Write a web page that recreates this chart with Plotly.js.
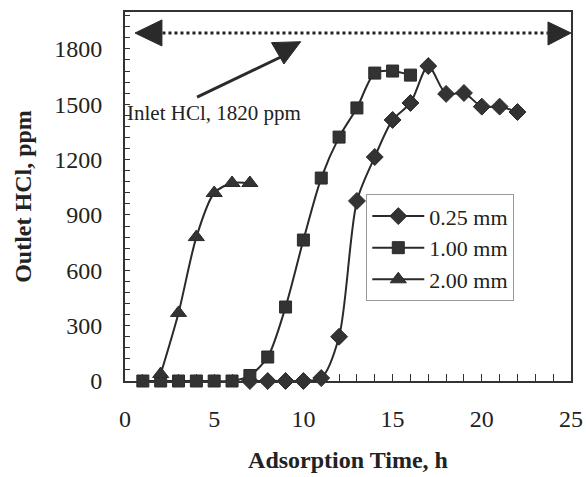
<!DOCTYPE html>
<html>
<head>
<meta charset="utf-8">
<script src="https://cdn.plot.ly/plotly-3.0.1.min.js"></script>
<style>html,body{margin:0;padding:0;background:#fff;}</style>
</head>
<body>
<div id="chart" style="width:586px;height:477px;"></div>
<script>
// Series: 0.25 mm (diamonds)
const x025 = [7, 8, 9, 10, 11, 12, 13, 14, 15, 16, 17, 18, 19, 20, 21, 22];
const y025 = [0, 0, 0, 0, 16, 240, 976, 1214, 1415, 1507, 1707, 1556, 1561, 1487, 1487, 1458];
// Series: 1.00 mm (squares)
const x100 = [1, 2, 3, 4, 5, 6, 7, 8, 9, 10, 11, 12, 13, 14, 15, 16];
const y100 = [0, 0, 0, 0, 0, 0, 30, 130, 401, 764, 1100, 1322, 1480, 1669, 1680, 1658];
// Series: 2.00 mm (triangles)
const x200 = [2, 3, 4, 5, 6, 7];
const y200 = [38, 369, 780, 1019, 1073, 1073];

const seriesNames = ["0.25 mm", "1.00 mm", "2.00 mm"];
const inletLabel = "Inlet HCl, 1820 ppm";
const inletLevel = 1886;

const xTitle = "Adsorption Time, h";
const yTitle = "Outlet HCl, ppm";

const dark = "#2a2a2a";
const FONT = "Liberation Serif, Times New Roman, serif";

function trace(x, y, name, symbol, size) {
  return {
    x: x, y: y, name: name, type: "scatter", mode: "lines+markers",
    line: {color: dark, width: 2, shape: "spline", smoothing: 0.8},
    marker: {symbol: symbol, size: size, color: "#333", line: {color: dark, width: 1}},
    cliponaxis: false
  };
}

const data = [
  trace(x025, y025, seriesNames[0], "diamond", 13),
  trace(x100, y100, seriesNames[1], "square", 12),
  trace(x200, y200, seriesNames[2], "triangle-up", 14)
];

const layout = {
  width: 586, height: 477,
  margin: {l: 125, r: 15, t: 12, b: 96},
  paper_bgcolor: "#fff", plot_bgcolor: "#fff",
  font: {family: FONT, color: "#222", size: 24},
  showlegend: true,
  legend: {
    x: 0.541, y: 0.506, xanchor: "left", yanchor: "top",
    bgcolor: "#fff", bordercolor: "#999", borderwidth: 1,
    font: {family: FONT, size: 22, color: "#222"},
    tracegroupgap: 0, itemwidth: 52
  },
  xaxis: {
    range: [0, 25], dtick: 5, tick0: 0,
    showline: true, linecolor: "#333", linewidth: 2, mirror: true,
    ticks: "inside", ticklen: 7, tickcolor: "#333", tickwidth: 1,
    minor: {dtick: 1, ticks: "inside", ticklen: 7, tickcolor: "#333"},
    showgrid: false, zeroline: false,
    tickfont: {family: FONT, size: 24, color: "#222"},
    ticklabelstandoff: 15,
    title: {text: "<b>" + xTitle + "</b>", font: {family: FONT, size: 24, color: "#222"}, standoff: 20}
  },
  yaxis: {
    range: [0, 2000], dtick: 300, tick0: 0,
    showline: true, linecolor: "#333", linewidth: 2, mirror: true,
    ticks: "inside", ticklen: 5, tickcolor: "#333", tickwidth: 1,
    minor: {dtick: 60, ticks: "inside", ticklen: 5, tickcolor: "#333"},
    showgrid: false, zeroline: false,
    tickfont: {family: FONT, size: 24, color: "#222"},
    ticklabelstandoff: 16,
    title: {text: "<b>" + yTitle + "</b>", font: {family: FONT, size: 24, color: "#222"}, standoff: 16}
  },
  shapes: [
    {type: "line", xref: "x", yref: "y", x0: 2.1, x1: 23.7, y0: inletLevel, y1: inletLevel,
     line: {color: "#222", width: 3, dash: "dot"}},
    {type: "path", xref: "x", yref: "y", path: "M0.56,1886 L2.07,1957 L2.07,1816 Z",
     fillcolor: dark, line: {color: dark, width: 1}},
    {type: "path", xref: "x", yref: "y", path: "M25,1886 L23.71,1946 L23.71,1821 Z",
     fillcolor: dark, line: {color: dark, width: 1}},
    {type: "line", xref: "x", yref: "y", x0: 4.04, y0: 1539, x1: 8.97, y1: 1767,
     line: {color: dark, width: 3}},
    {type: "path", xref: "x", yref: "y", path: "M8.21,1834 L9.85,1839 L8.91,1718 Z",
     fillcolor: dark, line: {color: dark, width: 1}}
  ],
  annotations: [
    {xref: "x", yref: "y", x: 0, y: 1453, xanchor: "left", yanchor: "middle",
     text: inletLabel, showarrow: false, font: {family: FONT, size: 21, color: "#222"}}
  ]
};

Plotly.newPlot("chart", data, layout, {displayModeBar: false, staticPlot: true});
</script>
</body>
</html>
